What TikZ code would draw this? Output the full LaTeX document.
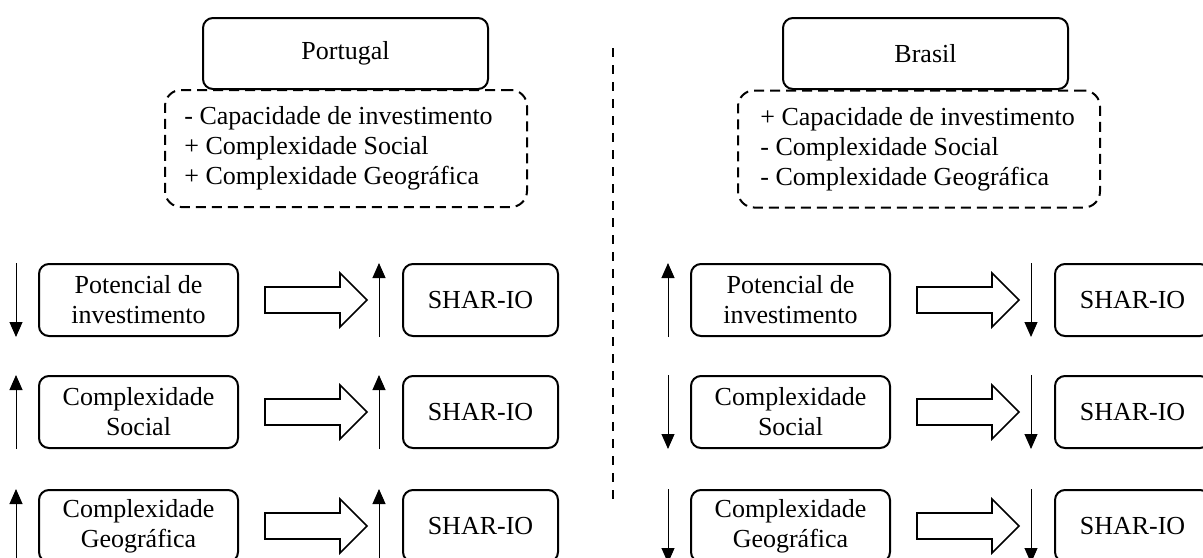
\documentclass[tikz,border=0pt]{standalone}
\usepackage{fontspec}
\setmainfont{Liberation Serif}
\usetikzlibrary{arrows.meta,calc}
\begin{document}
\begin{tikzpicture}[x=0.5pt,y=-0.5pt,
  every node/.style={font=\fontsize{13pt}{15pt}\selectfont},
  country/.style={draw,line width=1pt,rounded corners=5pt,minimum width=142.5pt,minimum height=35.5pt,inner sep=0pt},
  traitbox/.style={draw,line width=1pt,dash pattern=on 5pt off 3pt,rounded corners=8pt,minimum width=181pt,minimum height=58.5pt,inner sep=0pt},
  traits/.style={anchor=west,align=left,inner sep=0pt},
  factor/.style={draw,line width=1pt,rounded corners=5pt,minimum width=99.5pt,minimum height=36pt,inner sep=0pt,align=center},
  outcome/.style={draw,line width=1pt,rounded corners=5pt,minimum width=77.5pt,minimum height=36pt,inner sep=0pt},
  flowline/.style={draw,line width=0.8pt,line join=miter},
  trend/.style={line width=0.5pt,-{Triangle[length=7.5pt,width=6.5pt]}},
  divider/.style={line width=1pt,dash pattern=on 4.5pt off 4pt},
]
\useasboundingbox (0,0) rectangle (1203,557);

% country headers and their profiles
\node[country] (pt) at (345.5,53.5) {Portugal};
\node[traitbox] (ptdash) at (346,148.5) {};
\node[traits] (pttxt) at ([xshift=10pt]ptdash.west) {- Capacidade de investimento\\+ Complexidade Social\\+ Complexidade Geográfica};

\node[country] (br) at (925.5,53.5) {Brasil};
\node[traitbox] (brdash) at (919,149) {};
\node[traits] (brtxt) at ([xshift=11.5pt]brdash.west) {+ Capacidade de investimento\\- Complexidade Social\\- Complexidade Geográfica};

% vertical separator
\coordinate (dtop) at (613,48);
\coordinate (dbot) at (613,500);
\draw[divider] (dtop) -- (dbot);

% flow arrow macro: hollow block arrow starting at a named coordinate
\newcommand{\blockarrow}[1]{%
  \draw[flowline] (#1) ++(0,-13) -- ++(75,0) -- ++(0,-14) -- ++(27,27)
    -- ++(-27,27) -- ++(0,-14) -- ++(-75,0) -- cycle;}

% Portugal rows
\foreach \n/\yc/\lbl/\as/\ae/\bs/\be in {
  1/300/{Potencial de\\investimento}/north/south/south/north,
  2/412/{Complexidade\\Social}/south/north/south/north,
  3/526/{Complexidade\\Geográfica}/south/north/south/north}
{
  \node[factor] (pf\n) at (138.5,\yc) {\lbl};
  \node[outcome] (po\n) at (480.5,\yc) {SHAR-IO};
  \coordinate (pa\n) at (265,\yc);
  \blockarrow{pa\n}
  \draw[trend] ([xshift=-11pt]pf\n.\as\space west) -- ([xshift=-11pt]pf\n.\ae\space west);
  \draw[trend] ([xshift=-11.5pt]po\n.\bs\space west) -- ([xshift=-11.5pt]po\n.\be\space west);
}

% Brasil rows
\foreach \n/\yc/\lbl/\as/\ae/\bs/\be in {
  1/300/{Potencial de\\investimento}/south/north/north/south,
  2/412/{Complexidade\\Social}/north/south/north/south,
  3/526/{Complexidade\\Geográfica}/north/south/north/south}
{
  \node[factor] (bf\n) at (790.5,\yc) {\lbl};
  \node[outcome] (bo\n) at (1132.5,\yc) {SHAR-IO};
  \coordinate (ba\n) at (917,\yc);
  \blockarrow{ba\n}
  \draw[trend] ([xshift=-11pt]bf\n.\as\space west) -- ([xshift=-11pt]bf\n.\ae\space west);
  \draw[trend] ([xshift=-11.5pt]bo\n.\bs\space west) -- ([xshift=-11.5pt]bo\n.\be\space west);
}
\end{tikzpicture}
\end{document}
